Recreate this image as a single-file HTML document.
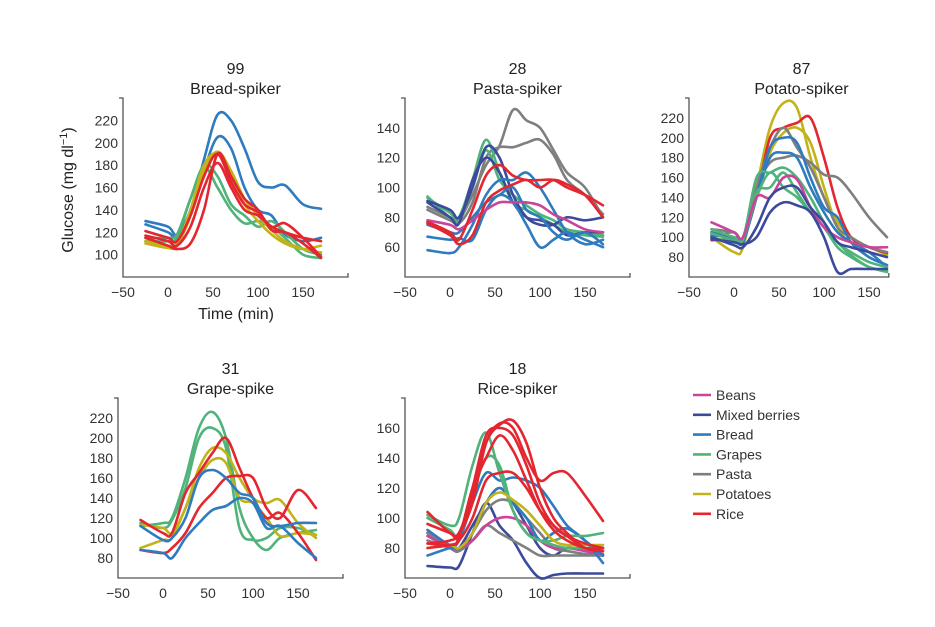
<!DOCTYPE html>
<html><head><meta charset="utf-8"><style>
html,body{margin:0;padding:0;background:#fff}
svg{display:block;font-family:"Liberation Sans",sans-serif}
</style></head><body>
<svg id="chart" width="935" height="627" viewBox="0 0 935 627"></svg>
<script>
const times=[-25,0,10,25,40,55,70,85,100,115,130,150,170];
const foods=["Beans","Mixed berries","Bread","Grapes","Pasta","Potatoes","Rice"];
const colors={"Beans":"#c9449a","Mixed berries":"#3b4a9c","Bread":"#2f7bbf","Grapes":"#4fb37a","Pasta":"#7f7f7f","Potatoes":"#c2b31a","Rice":"#e3262f"};
const xTicks=[-50,0,50,100,150];
const titles=["Bread-spiker","Pasta-spiker","Potato-spiker","Grape-spike","Rice-spiker"];
const counts=["99","28","87","31","18"];
const yTicks1=[100,120,140,160,180,200,220];
const yTicks2=[60,80,100,120,140];
const yTicks3=[80,100,120,140,160,180,200,220];
const yTicks4=[80,100,120,140,160,180,200,220];
const yTicks5=[80,100,120,140,160];
const series1=[
["Bread",[130,125,118,140,185,225,220,195,165,160,162,145,141]],
["Bread",[127,120,115,135,175,205,195,160,140,135,118,112,115]],
["Grapes",[115,115,118,150,180,170,145,135,125,130,120,105,100]],
["Grapes",[112,112,115,150,178,160,140,128,130,125,115,100,97]],
["Potatoes",[112,108,110,140,180,190,170,145,130,118,110,105,108]],
["Potatoes",[110,106,108,135,175,192,175,150,135,122,112,105,102]],
["Rice",[121,115,112,135,170,190,165,145,138,125,128,115,98]],
["Rice",[117,112,108,125,160,182,160,140,135,125,120,115,112]],
["Rice",[115,108,105,110,140,190,170,150,140,122,120,110,97]]];
const series2=[
["Pasta",[87,80,78,95,115,128,152,145,140,125,110,100,80]],
["Pasta",[85,78,76,90,120,127,127,130,132,122,105,95,82]],
["Grapes",[94,80,80,105,132,110,90,85,80,75,70,68,67]],
["Grapes",[93,83,78,100,125,105,95,88,82,78,72,70,68]],
["Mixed berries",[91,85,80,100,127,120,95,80,75,75,80,78,80]],
["Mixed berries",[90,80,76,105,120,110,90,80,78,75,68,70,70]],
["Bread",[67,65,66,65,85,95,90,75,60,65,70,65,60]],
["Bread",[58,56,60,75,95,105,105,110,100,85,70,62,65]],
["Bread",[75,70,70,80,90,95,100,85,80,70,65,70,62]],
["Beans",[78,75,72,78,85,90,90,90,88,82,78,72,70]],
["Rice",[77,70,65,85,108,115,108,105,105,105,100,95,88]],
["Rice",[76,68,62,68,90,98,102,105,100,105,102,95,80]]];
const series3=[
["Potatoes",[100,85,90,150,210,235,230,180,140,115,100,90,85]],
["Potatoes",[105,98,97,140,185,205,210,195,150,110,95,90,82]],
["Rice",[97,98,97,140,200,210,215,220,180,130,100,90,84]],
["Pasta",[100,105,95,150,175,180,182,175,163,160,145,120,100]],
["Pasta",[108,105,100,150,190,210,190,170,140,110,100,90,85]],
["Bread",[102,100,98,140,190,200,195,160,130,120,95,80,72]],
["Bread",[105,98,95,140,180,185,180,150,125,105,95,85,70]],
["Grapes",[108,100,98,160,165,170,160,140,115,95,85,75,70]],
["Grapes",[104,97,100,145,150,165,145,125,110,95,82,70,66]],
["Grapes",[100,95,98,140,165,150,140,125,110,90,80,70,65]],
["Beans",[115,105,100,140,140,160,158,130,110,100,95,90,90]],
["Mixed berries",[100,92,90,110,140,150,150,130,115,95,90,85,80]],
["Mixed berries",[98,95,93,100,125,135,132,125,100,65,68,68,68]]];
const series4=[
["Grapes",[112,115,120,160,210,226,200,130,100,88,100,105,108]],
["Grapes",[115,110,118,150,200,210,190,110,98,100,110,110,103]],
["Potatoes",[113,110,105,130,170,190,185,160,140,135,138,115,100]],
["Potatoes",[90,98,100,130,160,178,175,140,135,120,102,105,103]],
["Rice",[118,105,105,145,165,185,200,170,140,120,125,105,78]],
["Rice",[88,85,90,105,130,145,160,162,160,130,120,148,130]],
["Bread",[112,98,100,120,160,168,160,145,140,115,112,115,115]],
["Bread",[88,85,80,100,115,128,132,140,135,110,112,95,80]]];
const series5=[
["Mixed berries",[68,67,68,90,110,95,85,70,60,62,63,63,63]],
["Mixed berries",[90,80,80,95,110,120,110,95,80,75,80,78,75]],
["Pasta",[90,80,78,85,95,90,85,80,75,75,75,75,75]],
["Pasta",[85,80,78,90,105,112,110,100,90,80,78,76,75]],
["Beans",[88,80,80,85,95,100,100,95,85,80,80,78,76]],
["Bread",[92,82,85,110,130,125,127,125,120,108,95,85,70]],
["Bread",[75,80,80,90,110,120,110,100,85,90,93,85,75]],
["Grapes",[102,95,100,135,157,130,105,90,85,85,88,88,90]],
["Grapes",[100,92,88,115,140,135,105,90,85,82,80,80,80]],
["Potatoes",[80,82,80,90,110,117,112,105,95,85,82,82,82]],
["Rice",[104,90,90,110,150,163,160,140,125,130,130,115,98]],
["Rice",[96,90,88,120,155,160,155,135,110,95,88,83,80]],
["Rice",[83,85,90,115,150,162,165,150,120,100,90,80,78]],
["Rice",[80,82,85,100,125,130,130,120,105,95,88,80,78]],
["Rice",[83,82,87,120,140,155,145,125,105,92,85,80,80]]];

const NS="http://www.w3.org/2000/svg";
const svg=document.getElementById('chart');
function el(tag,attrs,parent){const e=document.createElementNS(NS,tag);for(const k in attrs)e.setAttribute(k,attrs[k]);(parent||svg).appendChild(e);return e;}
const panels=[
{x0:123,yTop:98,yBot:277,ymin:80,ymax:240,xEnd:200,yt:yTicks1,s:series1},
{x0:405,yTop:98,yBot:277,ymin:40,ymax:160,xEnd:200,yt:yTicks2,s:series2},
{x0:689,yTop:98,yBot:277,ymin:60,ymax:240,xEnd:172,yt:yTicks3,s:series3},
{x0:118,yTop:398,yBot:578,ymin:60,ymax:240,xEnd:200,yt:yTicks4,s:series4},
{x0:405,yTop:398,yBot:578,ymin:60,ymax:180,xEnd:200,yt:yTicks5,s:series5}];
function smooth(pts){let d=`M${pts[0][0]},${pts[0][1]}`;for(let i=0;i<pts.length-1;i++){const p0=pts[Math.max(0,i-1)],p1=pts[i],p2=pts[i+1],p3=pts[Math.min(pts.length-1,i+2)];
const c1x=p1[0]+(p2[0]-p0[0])/6,c1y=p1[1]+(p2[1]-p0[1])/6,c2x=p2[0]-(p3[0]-p1[0])/6,c2y=p2[1]-(p3[1]-p1[1])/6;d+=` C${c1x.toFixed(1)},${c1y.toFixed(1)} ${c2x.toFixed(1)},${c2y.toFixed(1)} ${p2[0].toFixed(1)},${p2[1].toFixed(1)}`;}return d;}
panels.forEach((p,pi)=>{
 const g=el('g',{});
 
 
 const xs=t=>p.x0+(t+50)*0.9;
 const ys=v=>p.yBot-(v-p.ymin)/(p.ymax-p.ymin)*(p.yBot-p.yTop);
 const cx=xs(75);
 const c=el('text',{x:cx,y:p.yTop-24,'text-anchor':'middle','font-size':16,fill:'#222'},g);c.textContent=counts[pi];
 
 
 const t=el('text',{x:cx,y:p.yTop-4,'text-anchor':'middle','font-size':16,fill:'#222'},g);t.textContent=titles[pi];
 
 
 const ax=el('path',{d:`M${p.x0-4},${p.yTop}H${p.x0}V${p.yBot}H${xs(p.xEnd)}V${p.yBot-4}`,fill:'none',stroke:'#555','stroke-width':1.3},g);
 
 
 p.yt.forEach(v=>{const l=el('text',{x:p.x0-5,y:ys(v)+5,'text-anchor':'end','font-size':14,fill:'#333'},g);l.textContent=v;
  
  });
 xTicks.forEach(v=>{const l=el('text',{x:xs(v),y:p.yBot+20,'text-anchor':'middle','font-size':14,fill:'#333'},g);l.textContent=v===-50?'\u221250':v;
  
  });
 p.s.forEach(([food,vals])=>{const pts=times.map((tt,i)=>[xs(tt),ys(vals[i])]);
  const path=el('path',{d:smooth(pts),fill:'none',stroke:colors[food],'stroke-width':2.6,'stroke-linejoin':'round','stroke-linecap':'round'},g);
  
  });
});
const yl=el('text',{x:0,y:0,transform:'translate(73,190) rotate(-90)','text-anchor':'middle','font-size':16,fill:'#222'});


yl.innerHTML='Glucose (mg dl<tspan dy="-6" font-size="11">\u22121</tspan><tspan dy="6">)</tspan>';
const xl=el('text',{x:236,y:319,'text-anchor':'middle','font-size':16,fill:'#222'});xl.textContent='Time (min)';


foods.forEach((f,i)=>{const y=395+i*19.8;
 const g=el('g',{});
 
 
 el('line',{x1:693,x2:711,y1:y,y2:y,stroke:colors[f],'stroke-width':2.6},g);
 const tx=el('text',{x:716,y:y+5,'font-size':14,fill:'#333'},g);tx.textContent=f;});
</script>
</body></html>
